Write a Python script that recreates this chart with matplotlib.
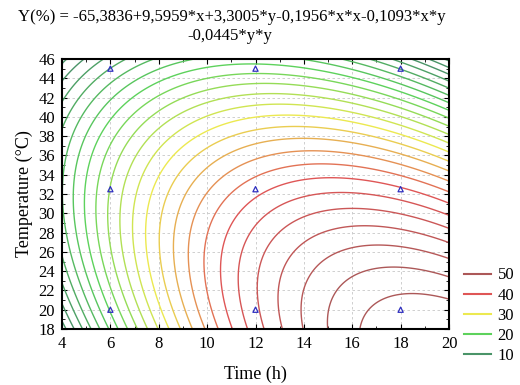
import numpy as np
import matplotlib.pyplot as plt
from matplotlib.colors import LinearSegmentedColormap
from matplotlib.lines import Line2D

plt.rcParams['font.family'] = ['Liberation Serif', 'DejaVu Serif']

# model coefficients: b0, x, y, x*x, x*y, y*y
coef = [-65.3836, 9.5959, 3.3005, -0.1956, -0.1093, -0.0445]
x_range = [4, 20]
y_range = [18, 46]
levels = np.arange(6, 54, 2)

# design points
pts_x = [6, 6, 6, 12, 12, 12, 18, 18, 18]
pts_y = [20, 32.5, 45, 20, 32.5, 45, 20, 32.5, 45]

legend_vals = [50, 40, 30, 20, 10]

cmap = LinearSegmentedColormap.from_list('stat', [
    (0.0, '#4a9468'),
    (0.25, '#5cd25c'),
    (0.5, '#ecea50'),
    (0.75, '#e05656'),
    (1.0, '#ac5858'),
])
norm = plt.Normalize(10, 50)

x = np.linspace(x_range[0], x_range[1], 300)
y = np.linspace(y_range[0], y_range[1], 300)
X, Y = np.meshgrid(x, y)
Z = coef[0] + coef[1]*X + coef[2]*Y + coef[3]*X*X + coef[4]*X*Y + coef[5]*Y*Y

fig = plt.figure(figsize=(5.2, 3.85), dpi=100)
ax = fig.add_axes([62/520, 1 - 329/385, (449-62)/520, (329-59)/385])

ax.contour(X, Y, Z, levels=levels, cmap=cmap, norm=norm, linewidths=1.0)
ax.scatter(pts_x, pts_y, marker='^', s=14, facecolors='none', edgecolors='#3030c0', linewidths=0.9, zorder=5)

ax.set_xlim(x_range)
ax.set_ylim(y_range)
ax.set_xticks(np.arange(4, 21, 2))
ax.set_yticks(np.arange(18, 47, 2))
ax.set_xticks(np.arange(4, 21, 1), minor=True)
ax.set_yticks(np.arange(18, 47, 1), minor=True)
ax.grid(True, linestyle=(0, (3, 3)), color='#c8c8c8', linewidth=0.6)
ax.tick_params(which='both', direction='in', top=True, right=True, labelsize=12)
ax.tick_params(which='major', length=3.5, pad=5)
ax.tick_params(which='minor', length=2)
for s in ax.spines.values():
    s.set_linewidth(1.5)

ax.set_xlabel('Time (h)', fontsize=13, labelpad=10)
ax.set_ylabel('Temperature (°C)', fontsize=13)

fig.text(0.445, 0.955, 'Y(%) = -65,3836+9,5959*x+3,3005*y-0,1956*x*x-0,1093*x*y',
         ha='center', va='center', fontsize=12)
fig.text(0.442, 0.907, '-0,0445*y*y', ha='center', va='center', fontsize=12)

handles = [Line2D([0], [0], color=cmap(norm(v)), lw=1.5) for v in legend_vals]
fig.legend(handles, [str(v) for v in legend_vals], loc='center left',
           bbox_to_anchor=(0.864, 0.18), frameon=False, fontsize=12,
           handlelength=1.6, handletextpad=0.4, labelspacing=0.25, borderpad=0.4)

fig.savefig('out.png', dpi=100)
